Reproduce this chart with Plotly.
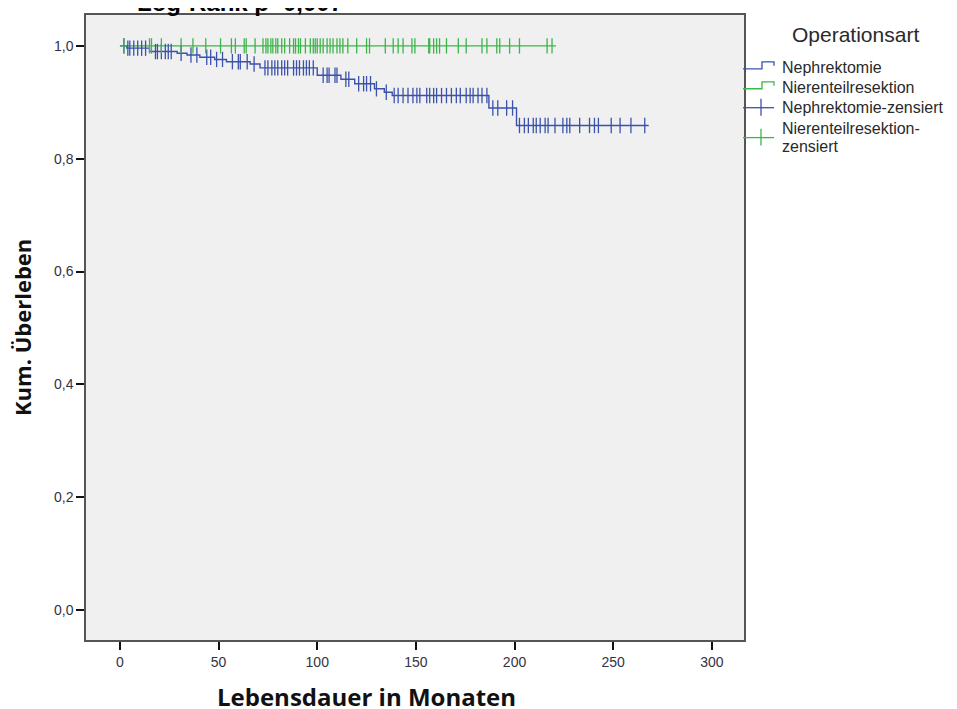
import numpy as np
import plotly.graph_objects as go

# ---- data ----
neph_times = [0, 3.5, 15, 29, 34, 40.5, 48, 54, 66, 71, 100, 112, 119, 129, 134, 138, 187, 201, 268]
neph_surv = [1.0, 0.996, 0.990, 0.987, 0.984, 0.980, 0.976, 0.972, 0.968, 0.961, 0.948, 0.941,
             0.933, 0.924, 0.918, 0.912, 0.890, 0.859, 0.859]
neph_censored = [2, 4, 5, 7, 9, 11, 13, 18, 19, 21, 23, 24.5, 26, 31, 36, 39, 44, 46, 49, 52,
                 57, 60, 61, 64.5, 68, 73.5, 75, 77, 78.5, 80, 82, 83.5, 85, 88, 89.5, 91, 93,
                 94.5, 96, 98, 103, 105, 106, 109, 110, 114.5, 116, 121, 123.5, 125, 127, 130,
                 135, 139, 141, 143.5, 146, 148.5, 150.5, 152, 155.5, 157, 159, 160.5, 163,
                 165.5, 168, 170.5, 172.5, 175.5, 177.5, 179, 181.5, 183.5, 186, 189, 191.5,
                 196, 199, 202.5, 205, 207, 209.5, 211, 213, 215.5, 217, 220.5, 224.5, 226.5,
                 228, 233, 238, 240.5, 242.5, 249, 253.5, 259, 266]

nt_times = [0, 221]
nt_surv = [1.0, 1.0]
nt_censored = [2, 15, 16, 21, 31, 37, 43.5, 51, 56.5, 58.5, 63, 64, 68.5, 72.5, 74, 75, 76.5,
               77.5, 79, 80, 82, 83.5, 86, 88, 89, 90.5, 91.5, 94, 96.5, 98, 99, 100, 101.5,
               103, 105, 106.5, 108, 110, 111.5, 113, 115.5, 120, 125, 126.5, 134.5, 138.5,
               141, 143.5, 148, 149.5, 156.5, 157, 159, 160.5, 162, 165.5, 171.5, 175.5, 183.5,
               186, 191, 192.5, 197.5, 202.5, 216.5, 219]

x_ticks = [0, 50, 100, 150, 200, 250, 300]
y_ticks = [0.0, 0.2, 0.4, 0.6, 0.8, 1.0]

BLUE = "#3b52ad"
GREEN = "#3cb54a"


def step_value(times, surv, t):
    idx = np.searchsorted(np.array(times), np.array(t), side="right") - 1
    return list(np.array(surv)[idx])


fig = go.Figure()
fig.add_trace(go.Scatter(x=neph_times, y=neph_surv, mode="lines", line=dict(color=BLUE, width=1.4, shape="hv"),
                         name="Nephrektomie", showlegend=False))
fig.add_trace(go.Scatter(x=nt_times, y=nt_surv, mode="lines", line=dict(color=GREEN, width=1.4, shape="hv"),
                         name="Nierenteilresektion", showlegend=False))
fig.add_trace(go.Scatter(x=neph_censored, y=step_value(neph_times, neph_surv, neph_censored), mode="markers",
                         marker=dict(symbol="line-ns", size=11, line=dict(color=BLUE, width=1.3)),
                         name="Nephrektomie-zensiert", showlegend=False))
fig.add_trace(go.Scatter(x=nt_censored, y=step_value(nt_times, nt_surv, nt_censored), mode="markers",
                         marker=dict(symbol="line-ns", size=11, line=dict(color=GREEN, width=1.3)),
                         name="Nierenteilresektion-zensiert", showlegend=False))

# page offset (body margin) and plot area in page pixels
OFF = 8
L, R, T, B = 86, 744, 13, 640
FW, FH = 957 - OFF, 709 - OFF


def px(x):
    return (x - L) / (R - L)


def py(y):
    return (B - y) / (B - T)


shapes = []
annotations = []
legend_font = dict(family="Liberation Sans, Arial", size=16, color="#2a2a2a")
annotations.append(dict(text="Operationsart", x=px(855), y=py(33), xref="paper", yref="paper",
                        xanchor="center", yanchor="middle", showarrow=False,
                        font=dict(family="Liberation Sans, Arial", size=21, color="#2a2a2a")))
entries = [(["Nephrektomie"], BLUE, "step", 66), (["Nierenteilresektion"], GREEN, "step", 86),
           (["Nephrektomie-zensiert"], BLUE, "cens", 106),
           (["Nierenteilresektion-", "zensiert"], GREEN, "cens", 136)]
for labels, col, kind, yc in entries:
    if kind == "step":
        path = (f"M {px(743)},{py(yc+1)} L {px(762)},{py(yc+1)} L {px(762)},{py(yc-6)} "
                f"L {px(774)},{py(yc-6)} L {px(774)},{py(yc-2)}")
        shapes.append(dict(type="path", path=path, xref="paper", yref="paper",
                           line=dict(color=col, width=1.3)))
    else:
        shapes.append(dict(type="line", x0=px(743), x1=px(774), y0=py(yc), y1=py(yc),
                           xref="paper", yref="paper", line=dict(color=col, width=1.3)))
        shapes.append(dict(type="line", x0=px(761), x1=px(761), y0=py(yc - 9), y1=py(yc + 8),
                           xref="paper", yref="paper", line=dict(color=col, width=1.3)))
    n = len(labels)
    for i, lab in enumerate(labels):
        ly = yc + (i - (n - 1) / 2) * 18
        annotations.append(dict(text=lab, x=px(780), y=py(ly), xref="paper", yref="paper",
                                xanchor="left", yanchor="middle", align="left", showarrow=False,
                                font=legend_font))

# cut-off title at top
annotations.append(dict(text="<b>Log-Rank p=0,007</b>", x=px(135), y=py(0), xref="paper", yref="paper",
                        xanchor="left", yanchor="middle", showarrow=False,
                        font=dict(family="Liberation Sans, Arial", size=24, color="#000")))
# axis titles
annotations.append(dict(text="<b>Lebensdauer in Monaten</b>", x=px(366), y=py(697), xref="paper", yref="paper",
                        xanchor="center", yanchor="middle", showarrow=False,
                        font=dict(family="Open Sans, sans-serif", size=24, color="#111")))
annotations.append(dict(text="<b>Kum. Überleben</b>", x=px(22), y=py(327), xref="paper", yref="paper",
                        xanchor="center", yanchor="middle", showarrow=False, textangle=-90,
                        font=dict(family="Open Sans, sans-serif", size=22, color="#111")))

fig.update_layout(
    width=FW, height=FH,
    margin=dict(l=L - OFF, r=FW - (R - OFF), t=T - OFF, b=FH - (B - OFF), pad=0),
    paper_bgcolor="white", plot_bgcolor="#f0f0f0",
    separators=",.",
    shapes=shapes, annotations=annotations,
    showlegend=False,
)
fig.update_xaxes(range=[-17.2, 316.3], tickvals=x_ticks, ticks="outside", ticklen=8, tickwidth=2,
                 tickcolor="#111", showgrid=False, zeroline=False, showline=True, linecolor="#555",
                 linewidth=1.5, mirror=True,
                 tickfont=dict(family="Liberation Sans, Arial", size=14, color="#334"))
fig.update_yaxes(range=[-0.053, 1.0548], tickvals=y_ticks, tickformat=".1f", ticks="outside", ticklen=8,
                 tickwidth=2, tickcolor="#111", showgrid=False, zeroline=False, showline=True,
                 linecolor="#555", linewidth=1.5, mirror=True,
                 tickfont=dict(family="Liberation Sans, Arial", size=14, color="#334"))

fig.write_html("out.html")
